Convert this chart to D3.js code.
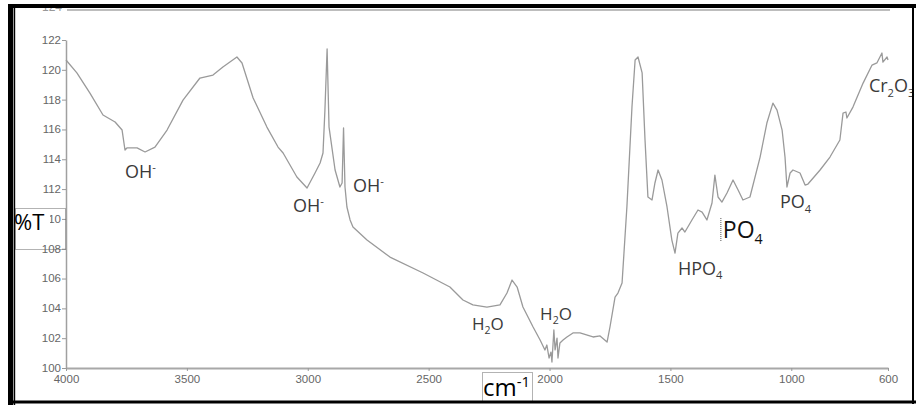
<!DOCTYPE html>
<html>
<head>
<meta charset="utf-8">
<script src="https://cdn.jsdelivr.net/npm/d3@7"></script>
<style>
  html, body { margin: 0; padding: 0; background: #fff; }
  svg { display: block; }
</style>
</head>
<body>
<svg id="chart" width="916" height="405"></svg>
<script>
// ---- data ----
const wavenumber = [4000,3955,3901,3847,3797,3768,3756,3748,3706,3673,3632,3582,3516,3446,3392,3351,3293,3272,3226,3169,3123,3102,3045,3003,2970,2949,2937,2929,2920,2912,2887,2867,2858,2852,2846,2838,2825,2813,2755,2660,2523,2412,2358,2317,2259,2205,2176,2155,2134,2110,2068,2039,2019,2011,2002,1994,1990,1982,1977,1969,1965,1957,1944,1928,1903,1874,1820,1791,1762,1750,1729,1717,1700,1680,1659,1646,1634,1617,1605,1593,1576,1564,1551,1535,1514,1494,1481,1469,1452,1440,1411,1386,1369,1349,1328,1316,1303,1287,1266,1241,1220,1200,1171,1129,1101,1076,1059,1038,1026,1018,1005,993,964,943,931,881,840,799,786,774,770,745,703,666,646,625,621,604,600];
const transmittance = [120.66,119.8,118.44,116.97,116.5,115.96,114.62,114.76,114.76,114.49,114.82,115.96,117.97,119.45,119.65,120.19,120.86,120.46,118.11,116.16,114.82,114.42,112.81,112.07,113.08,113.75,114.42,117.3,121.4,116.16,113.28,112.14,112.41,116.1,112.14,110.8,109.93,109.46,108.58,107.44,106.37,105.43,104.56,104.23,104.09,104.23,105.03,105.9,105.43,104.09,102.75,101.88,101.21,101.54,100.67,101.07,100.4,102.55,101.21,102.01,100.67,101.68,101.88,102.08,102.35,102.35,102.08,102.15,101.74,102.75,104.76,105.03,105.7,110.8,117.5,120.66,120.86,119.79,115.29,111.47,111.27,112.41,113.28,112.61,110.8,108.58,107.71,109.05,109.39,109.12,109.93,110.6,110.46,109.93,111.07,112.94,111.47,111.13,111.74,112.61,111.94,111.27,111.47,114.15,116.43,117.77,117.3,115.96,114.15,112.14,113.08,113.28,113.08,112.27,112.34,113.28,114.15,115.29,117.1,117.17,116.77,117.5,119.11,120.32,120.46,121.13,120.52,120.86,120.66];

const xTicks = [4000,3500,3000,2500,2000,1500,1000,600];
const yTicks = [100,102,104,106,108,110,112,114,116,118,120,122];

// annotations: text (with _ for subscript, ^ for superscript) and anchor in data units
const labelText = ["OH^-","OH^-","OH^-","H_2O","H_2O","HPO_4","PO_4","PO_4","Cr_2O_3"];
const labelWn   = [3756, 3061, 2813, 2321, 2039, 1469, 1283, 1047, 679];
const labelT    = [112.74,110.46,111.8,102.55,103.22,106.24,108.72,110.73,118.51];
const labelKind = ["m","m","m","m","m","m","big","m","m"];

const xTitle = "cm^-^1";
const yTitle = "%T";

// ---- drawing ----
const svg = d3.select("#chart");
const x = d3.scaleLinear().domain([4000, 600]).range([66, 888]);
const y = d3.scaleLinear().domain([100, 122]).range([368, 40]);

svg.append("rect").attr("x",0).attr("y",0).attr("width",916).attr("height",405).attr("fill","#fff");

// partially hidden top label (cut off by the frame, as in the reference)
svg.append("text").attr("x",62).attr("y",11).attr("text-anchor","end")
  .attr("font-family","Liberation Sans, Arial, sans-serif").attr("font-size",12).attr("fill","#999").text("124");
svg.append("line").attr("x1",67).attr("x2",890).attr("y1",10).attr("y2",10).attr("stroke","#bdbdbd").attr("stroke-width",2);

// axes
const fontTick = "Liberation Sans, Arial, sans-serif";
const gx = svg.append("g").attr("transform","translate(0,368)")
  .call(d3.axisBottom(x).tickValues(xTicks).tickSize(3).tickSizeOuter(0).tickPadding(4).tickFormat(d3.format("d")));
const gy = svg.append("g").attr("transform","translate(66,0)")
  .call(d3.axisLeft(y).tickValues(yTicks).tickSize(4).tickSizeOuter(0).tickPadding(1).tickFormat(d3.format("d")));
gx.select(".domain").attr("stroke","#a8a8a8").attr("stroke-width",2);
gy.select(".domain").attr("stroke","#a0a0a0").attr("stroke-width",1.5);
[gx, gy].forEach(g => {
  g.selectAll(".tick line").attr("stroke","#999").attr("stroke-width",1);
  g.selectAll(".tick text").attr("fill","#666").attr("font-size",11.5).attr("font-family",fontTick);
});
gy.selectAll(".tick text").attr("dy","0.3em");

// spectrum
const pts = wavenumber.map((w,i) => [w, transmittance[i]]);
svg.append("path").datum(pts)
  .attr("fill","none").attr("stroke","#9a9a9a").attr("stroke-width",1.3).attr("stroke-linejoin","round")
  .attr("d", d3.line().x(d => x(d[0])).y(d => y(d[1])));

// rich text helper: _x subscript, ^x superscript
function rich(sel, str, size) {
  let i = 0, state = "n";
  while (i < str.length) {
    let c = str[i];
    let mode = "n";
    if (c === "_" || c === "^") { mode = c === "_" ? "sub" : "sup"; i++; c = str[i]; }
    const t = sel.append("tspan").text(c);
    if (mode !== "n") t.attr("font-size", size * 0.62);
    const target = mode === "sub" ? size * 0.25 : mode === "sup" ? -size * 0.38 : 0;
    const cur = state === "sub" ? size * 0.25 : state === "sup" ? -size * 0.38 : 0;
    const dy = target - cur;
    if (dy !== 0) t.attr("dy", dy);
    state = mode;
    i++;
  }
}

const labelFont = "Open Sans, Noto Sans, sans-serif";
labelText.forEach((s, i) => {
  const big = labelKind[i] === "big";
  const size = big ? 23 : (s.startsWith("H_") ? 17 : 18);
  const t = svg.append("text")
    .attr("x", x(labelWn[i])).attr("y", y(labelT[i]))
    .attr("font-family", labelFont).attr("font-size", size)
    .attr("fill", big ? "#111" : "#3a3a3a");
  rich(t, s, size);
});
// dotted text-box edge by the big PO4
svg.append("line").attr("x1", x(1283) - 2).attr("x2", x(1283) - 2)
  .attr("y1", y(108.72) - 20).attr("y2", y(108.72) + 3)
  .attr("stroke","#555").attr("stroke-dasharray","1,1");

// y title with its text box
svg.append("rect").attr("x",15).attr("y",208).attr("width",35).attr("height",30).attr("fill","#fff");
svg.append("rect").attr("x",15.5).attr("y",208.5).attr("width",50).attr("height",41)
  .attr("fill","none").attr("stroke","#666").attr("stroke-dasharray","1,1");
const ty = svg.append("text").attr("x",14).attr("y",230)
  .attr("font-family",labelFont).attr("font-size",22).attr("fill","#000");
rich(ty, yTitle, 22);

// x title with its text box
svg.append("rect").attr("x",482.5).attr("y",372.5).attr("width",50).attr("height",29)
  .attr("fill","none").attr("stroke","#666").attr("stroke-dasharray","1,1");
const tx = svg.append("text").attr("x",483).attr("y",396)
  .attr("font-family",labelFont).attr("font-size",24).attr("fill","#000");
rich(tx, xTitle, 24);

// outer black frame
svg.append("rect").attr("x",8).attr("y",0).attr("width",908).attr("height",8).attr("fill","#fff").attr("opacity",0);
svg.append("rect").attr("x",8).attr("y",4).attr("width",5).attr("height",401).attr("fill","#000");
svg.append("rect").attr("x",13.6).attr("y",8).attr("width",1.6).attr("height",397).attr("fill","#000");
svg.append("rect").attr("x",8).attr("y",0).attr("width",908).attr("height",4).attr("fill","#fff");
svg.append("rect").attr("x",8).attr("y",4).attr("width",908).attr("height",4).attr("fill","#000");
svg.append("rect").attr("x",8).attr("y",400.5).attr("width",908).attr("height",3).attr("fill","#000");
svg.append("rect").attr("x",912).attr("y",4).attr("width",2).attr("height",400).attr("fill","#000");
</script>
</body>
</html>
